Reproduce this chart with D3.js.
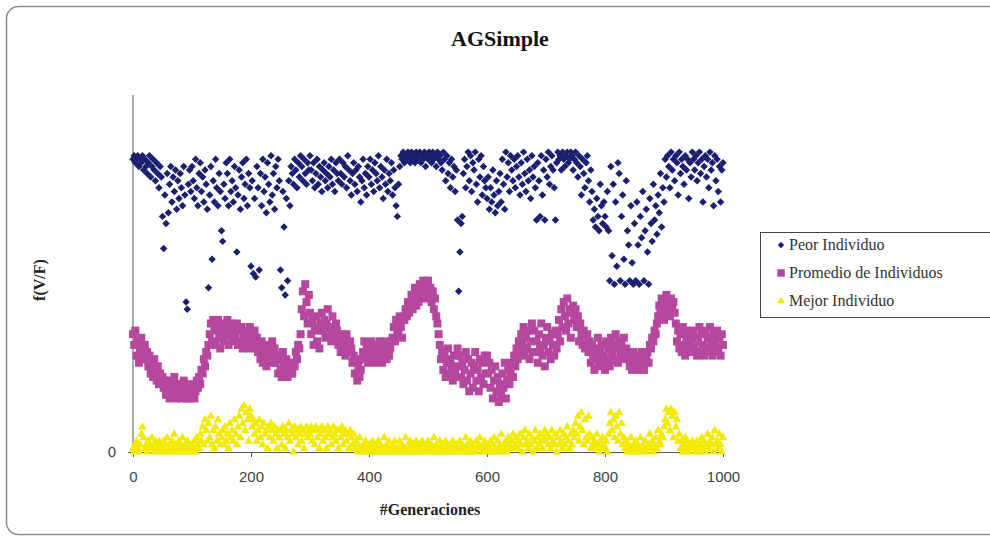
<!DOCTYPE html>
<html lang="en">
<head>
  <meta charset="UTF-8" />
  <title>AGSimple</title>
  <style>
  body { margin: 0; background: #fff; }
  .serif { font-family: "Liberation Serif", "Times New Roman", serif; }
  .tick-label { font-family: "Liberation Sans", Arial, sans-serif; font-size: 15px; fill: #404040; }
  </style>
</head>
<body>
<svg id="chart" width="990" height="540"></svg>

<script src="https://cdn.jsdelivr.net/npm/d3@7/dist/d3.min.js"></script>
<script>
// one value every 2 generations, 0..1000
var step = 2;

var xTicks = [0, 200, 400, 600, 800, 1000];

var peor = [
  82, 83, 81, 82, 83, 80, 82, 81, 83, 79, 82, 80, 78, 81, 83, 77, 80, 82, 79, 76, 81, 78, 74, 80, 77,
  66, 57, 72, 64, 78, 67, 75, 80, 70, 77, 73, 79, 68, 76, 71, 78, 74, 69, 80, 72, 42, 40, 75, 79, 73,
  80, 76, 71, 82, 74, 69, 78, 81, 73, 77, 70, 79, 75, 68, 46, 72, 80, 54, 76, 70, 82, 74, 69, 78, 73,
  62, 59, 75, 71, 81, 78, 69, 82, 73, 76, 70, 80, 74, 56, 72, 79, 68, 77, 81, 71, 75, 82, 69, 78, 74,
  52, 76, 50, 71, 49, 80, 74, 51, 78, 69, 82, 73, 77, 67, 81, 75, 70, 83, 72, 78, 68, 80, 74, 82, 76,
  51, 46, 73, 63, 44, 71, 48, 76, 69, 80, 78, 75, 82, 79, 74, 81, 77, 83, 80, 76, 82, 78, 75, 81, 79,
  83, 79, 76, 81, 74, 78, 82, 75, 80, 77, 73, 79, 81, 76, 78, 74, 80, 77, 82, 75, 79, 73, 81, 78, 76,
  82, 78, 75, 81, 77, 80, 74, 83, 79, 76, 72, 78, 81, 75, 79, 73, 80, 77, 70, 76, 82, 74, 78, 72, 80,
  77, 82, 75, 79, 73, 81, 78, 76, 83, 74, 80, 77, 71, 79, 75, 82, 73, 78, 76, 81, 72, 79, 74, 69, 66,
  75, 80, 83, 82, 84, 81, 83, 82, 84, 83, 81, 84, 82, 83, 81, 84, 82, 83, 84, 81, 83, 82, 84, 80, 83,
  82, 84, 83, 81, 84, 82, 83, 80, 84, 82, 83, 81, 79, 84, 82, 76, 83, 78, 81, 74, 82, 77, 80, 73, 79,
  65, 45, 56, 64, 66, 78, 82, 74, 80, 84, 76, 83, 73, 81, 79, 84, 75, 70, 82, 77, 83, 72, 80, 76, 74,
  71, 77, 68, 74, 70, 79, 72, 67, 76, 69, 73, 78, 70, 82, 75, 68, 84, 77, 81, 73, 83, 79, 76, 82, 74,
  80, 83, 77, 72, 81, 75, 84, 78, 73, 82, 76, 79, 71, 83, 77, 80, 74, 65, 81, 76, 66, 83, 72, 79, 65,
  82, 77, 84, 75, 80, 83, 79, 74, 65, 81, 84, 82, 83, 79, 84, 82, 80, 83, 84, 81, 82, 84, 83, 79, 82,
  84, 81, 77, 83, 80, 72, 82, 78, 74, 81, 83, 76, 70, 79, 73, 65, 68, 63, 71, 66, 62, 75, 69, 64, 70,
  66, 63, 73, 62, 48, 80, 55, 75, 47, 70, 52, 81, 78, 48, 66, 72, 54, 47, 76, 62, 58, 48, 69, 53, 47,
  64, 48, 70, 58, 47, 66, 60, 73, 48, 62, 68, 56, 47, 71, 64, 59, 75, 65, 69, 61, 72, 67, 78, 63, 74,
  70, 82, 77, 83, 80, 74, 84, 79, 82, 76, 83, 81, 72, 84, 78, 82, 80, 75, 83, 79, 82, 71, 81, 77, 84,
  82, 79, 83, 76, 81, 84, 78, 82, 70, 80, 83, 77, 82, 74, 84, 79, 81, 69, 83, 76, 82, 73, 80, 70, 79, 81
];

var promedio = [
  33, 30, 34, 27, 31, 25, 29, 32, 26, 28,
  30, 26, 28, 24, 27, 22, 25, 21, 26, 23, 20, 24, 19, 22, 20,
  21, 18, 20, 16, 19, 17, 15, 20, 18, 16, 21, 17, 15, 19, 16,
  18, 15, 17, 20, 16, 15, 19, 17, 15, 18, 16, 19, 15, 17, 20,
  18, 21, 19, 23, 22, 26, 24, 28, 27, 30,
  33, 36, 31, 37, 34, 30, 35, 37, 32, 29,
  34, 36, 31, 35, 33, 37, 30, 34, 36, 32, 35, 31, 33, 36, 30,
  34, 31, 35, 29, 33, 30, 34, 32, 29, 35, 31, 33, 30, 34, 29,
  32, 28, 30, 26, 31, 25, 29, 27, 24, 30, 26, 28, 25, 31, 27,
  29, 25, 27, 22, 26, 23, 21, 28, 24, 22, 26, 21, 25, 23, 22,
  22, 25, 24, 28, 26, 30, 29, 33,
  40, 45, 38, 47, 42, 36, 44,
  39, 33, 37, 30, 35, 38, 31, 34, 29, 36,
  39, 34, 37, 32, 36, 40, 33, 35, 31, 38, 34, 32, 36,
  34, 30, 32, 28, 33, 29, 31, 27, 33, 30, 28, 31,
  29, 25, 27, 22, 26, 20, 24, 21, 23, 26,
  28, 31, 26, 29, 25, 30, 27, 31, 26, 28, 25, 30, 29, 26, 31, 27, 25, 29, 28, 31, 26, 30, 27, 29, 31,
  32, 35, 31, 37, 34, 33, 38, 35, 32, 37,
  37, 40, 38, 42, 39, 41, 44, 40, 43, 46, 41, 45, 42, 47, 44, 46, 48, 43, 47, 45,
  48, 44, 46, 42, 45, 40, 43, 38, 36, 33,
  30, 26, 28, 23, 27, 21, 25, 29, 22, 26, 24, 20, 27, 23, 21,
  29, 24, 27, 21, 25, 19, 23, 28, 20, 26, 17, 22, 25, 18, 24, 28, 20, 23, 17, 26, 21, 25, 19, 27, 22,
  27, 22, 25, 18, 23, 15, 20, 24, 17, 21, 14, 19, 16, 22, 18, 25, 15, 20, 23, 19,
  22, 25, 21, 27, 24, 29, 26, 31, 28, 33, 30, 35, 27, 32, 29, 34, 26, 31, 36, 28,
  34, 28, 31, 25, 33, 29, 36, 27, 30, 24, 32, 35, 28, 31, 26, 33, 30, 27, 34, 29,
  33, 37, 31, 40, 35, 42, 38, 34, 43, 36, 40, 32, 39, 41, 37,
  40, 35, 38, 31, 36, 33, 30, 34, 29, 32,
  33, 28, 31, 25, 30, 27, 23, 29, 26, 32, 24, 28, 30, 25, 27, 23, 31, 26, 29, 24,
  32, 28, 30, 26, 33, 29, 25, 31, 27, 30, 28, 32, 26, 29, 27,
  27, 24, 26, 23, 28, 25, 24, 27, 23, 26, 25, 28, 24, 23, 26,
  26, 28, 25, 30, 29, 32, 31, 34, 33, 36,
  38, 41, 39, 43, 40, 37, 42, 44, 39, 41, 38, 43, 40, 42, 39,
  36, 31, 34, 29, 33, 28, 35, 30, 27, 32, 34, 29, 31, 28, 33,
  34, 29, 32, 27, 31, 35, 28, 33, 30, 27, 34, 29, 32, 28, 35, 30, 27, 33, 31, 28, 34, 29, 32, 27, 33, 30
];

var mejor = [
  1, 0, 2, 3, 1, 0, 2, 5, 7, 4, 1, 2, 0, 3, 1, 2, 4, 1, 0, 3, 2, 1, 3, 0, 2,
  1, 3, 0, 2, 4, 1, 2, 0, 3, 1, 5, 2, 0, 1, 3, 2, 0, 4, 1, 2, 0, 3, 1, 2, 0,
  2, 1, 3, 0, 4, 2, 1, 5, 3, 7, 2, 9, 6, 3, 8, 4, 10, 2, 6, 1, 7, 3, 9, 5, 2,
  4, 6, 2, 7, 3, 5, 1, 8, 4, 6, 3, 9, 5, 2, 7, 10, 4, 12, 8, 13, 6, 11, 9, 3, 12,
  10, 7, 9, 5, 8, 3, 6, 9, 4, 7, 2, 8, 5, 6, 1, 7, 4, 8, 6, 3, 7, 5, 1, 6, 4,
  6, 2, 7, 5, 1, 6, 4, 8, 3, 6, 5, 0, 7, 4, 6, 2, 5, 7, 3, 6, 1, 5, 7, 4, 6,
  5, 7, 3, 6, 2, 7, 4, 6, 1, 5, 7, 3, 6, 4, 1, 7, 5, 6, 2, 4, 7, 5, 3, 6, 1,
  6, 4, 7, 2, 5, 6, 3, 5, 1, 6, 4, 2, 5, 1, 3, 0, 2, 4, 1, 0, 2, 1, 3, 0, 1,
  2, 0, 1, 3, 0, 2, 1, 0, 3, 1, 2, 0, 1, 4, 0, 2, 1, 3, 0, 1, 2, 0, 3, 1, 0,
  1, 3, 0, 2, 1, 0, 4, 1, 2, 0, 3, 1, 0, 2, 1, 3, 0, 2, 1, 0, 3, 2, 0, 1, 2,
  3, 1, 0, 2, 1, 4, 0, 2, 1, 0, 3, 1, 2, 0, 1, 3, 0, 2, 1, 0, 2, 3, 1, 0, 2,
  1, 0, 3, 1, 2, 0, 1, 4, 2, 0, 1, 3, 0, 2, 1, 0, 3, 1, 2, 4, 1, 0, 2, 3, 1,
  0, 2, 1, 3, 0, 2, 4, 1, 0, 3, 1, 2, 5, 0, 2, 1, 3, 0, 4, 2, 1, 3, 5, 1, 2,
  4, 1, 3, 5, 2, 0, 4, 6, 2, 3, 1, 5, 2, 4, 0, 3, 6, 1, 4, 2, 5, 3, 1, 4, 6,
  3, 5, 2, 4, 1, 6, 3, 2, 5, 0, 4, 2, 6, 3, 1, 5, 2, 4, 7, 3, 1, 5, 2, 6, 4,
  8, 5, 10, 3, 7, 11, 6, 2, 9, 4, 3, 10, 5, 1, 4, 2, 3, 1, 5, 2, 0, 3, 1, 4, 2,
  1, 3, 0, 5, 8, 11, 6, 9, 4, 10, 7, 3, 11, 5, 8, 2, 4, 1, 3, 0, 2, 1, 4, 0, 2,
  1, 3, 0, 2, 1, 4, 0, 2, 1, 3, 0, 1, 2, 5, 1, 3, 0, 2, 4, 1, 6, 3, 2, 5, 4,
  7, 9, 12, 8, 11, 6, 12, 10, 4, 11, 7, 9, 3, 5, 1, 3, 0, 2, 4, 1, 3, 0, 2, 1, 3,
  1, 2, 0, 3, 1, 0, 2, 4, 1, 3, 0, 2, 5, 1, 3, 2, 4, 0, 6, 2, 3, 1, 5, 2, 0, 4
];

var seriesNames = ["Peor Individuo", "Promedio de Individuos", "Mejor Individuo"];
var colors = ["#1b1f70", "#b5489e", "#f2ea00"];

var svg = d3.select("#chart");

// outer frame
svg.append("rect")
  .attr("x", 6.5).attr("y", 6.5)
  .attr("width", 1000).attr("height", 528)
  .attr("rx", 12)
  .attr("fill", "#fff")
  .attr("stroke", "#8a8a8a")
  .attr("stroke-width", 1.5);

var xScale = d3.scaleLinear().domain([0, 1000]).range([133, 723]);
var yScale = d3.scaleLinear().domain([0, 100]).range([452, 95]);

svg.append("text")
  .attr("class", "serif")
  .attr("x", 500).attr("y", 46)
  .attr("text-anchor", "middle")
  .attr("font-size", 22).attr("font-weight", "bold")
  .attr("fill", "#111")
  .text("AGSimple");

// axes
var xAxis = svg.append("g")
  .attr("transform", "translate(0," + yScale(0) + ")")
  .call(d3.axisBottom(xScale).tickValues(xTicks).tickFormat(d3.format("d")).tickSize(5).tickPadding(14));
xAxis.select(".domain").attr("stroke", "#555");
xAxis.selectAll(".tick line").attr("stroke", "#555");
xAxis.selectAll(".tick text").attr("class", "tick-label");

var yAxis = svg.append("g")
  .attr("transform", "translate(" + xScale(0) + ",0)")
  .call(d3.axisLeft(yScale).tickValues([0]).tickSize(5).tickPadding(12));
yAxis.select(".domain").attr("stroke", "#555").attr("d", "M0," + yScale(100) + "V" + yScale(0));
yAxis.selectAll(".tick line").attr("stroke", "#555");
yAxis.selectAll(".tick text").attr("class", "tick-label");

svg.append("text")
  .attr("class", "serif")
  .attr("x", 430).attr("y", 515)
  .attr("text-anchor", "middle")
  .attr("font-size", 16).attr("font-weight", "bold")
  .attr("fill", "#222")
  .text("#Generaciones");

svg.append("text")
  .attr("class", "serif")
  .attr("transform", "translate(45,280) rotate(-90)")
  .attr("text-anchor", "middle")
  .attr("font-size", 16).attr("font-weight", "bold")
  .attr("fill", "#222")
  .text("f(V/F)");

var diamond = d3.symbol().type(d3.symbolSquare).size(28);
var square = d3.symbol().type(d3.symbolSquare).size(64);
var triangle = d3.symbol().type(d3.symbolTriangle).size(32);

svg.append("g").selectAll("path")
  .data(peor).enter().append("path")
  .attr("d", diamond)
  .attr("fill", colors[0])
  .attr("transform", function(d, i) { return "translate(" + xScale(i * step) + "," + yScale(d) + ") rotate(45)"; });

svg.append("g").selectAll("path")
  .data(promedio).enter().append("path")
  .attr("d", square)
  .attr("fill", colors[1])
  .attr("transform", function(d, i) { return "translate(" + xScale(i * step) + "," + yScale(d) + ")"; });

svg.append("g").selectAll("path")
  .data(mejor).enter().append("path")
  .attr("d", triangle)
  .attr("fill", colors[2])
  .attr("transform", function(d, i) { return "translate(" + xScale(i * step) + "," + yScale(d) + ")"; });

// legend
var legend = svg.append("g").attr("transform", "translate(760,232)");
legend.append("rect")
  .attr("x", 0.5).attr("y", 0.5)
  .attr("width", 260).attr("height", 85)
  .attr("fill", "#fff")
  .attr("stroke", "#444");

var markers = [
  d3.symbol().type(d3.symbolSquare).size(20),
  d3.symbol().type(d3.symbolSquare).size(56),
  d3.symbol().type(d3.symbolTriangle).size(24)
];
seriesNames.forEach(function(name, i) {
  var cy = 13 + i * 28;
  legend.append("path")
    .attr("d", markers[i])
    .attr("fill", colors[i])
    .attr("transform", "translate(21," + cy + ")" + (i === 0 ? " rotate(45)" : ""));
  legend.append("text")
    .attr("class", "serif")
    .attr("x", 29).attr("y", cy + 5)
    .attr("font-size", 16)
    .attr("fill", "#333")
    .text(name);
});
</script>
</body>
</html>
